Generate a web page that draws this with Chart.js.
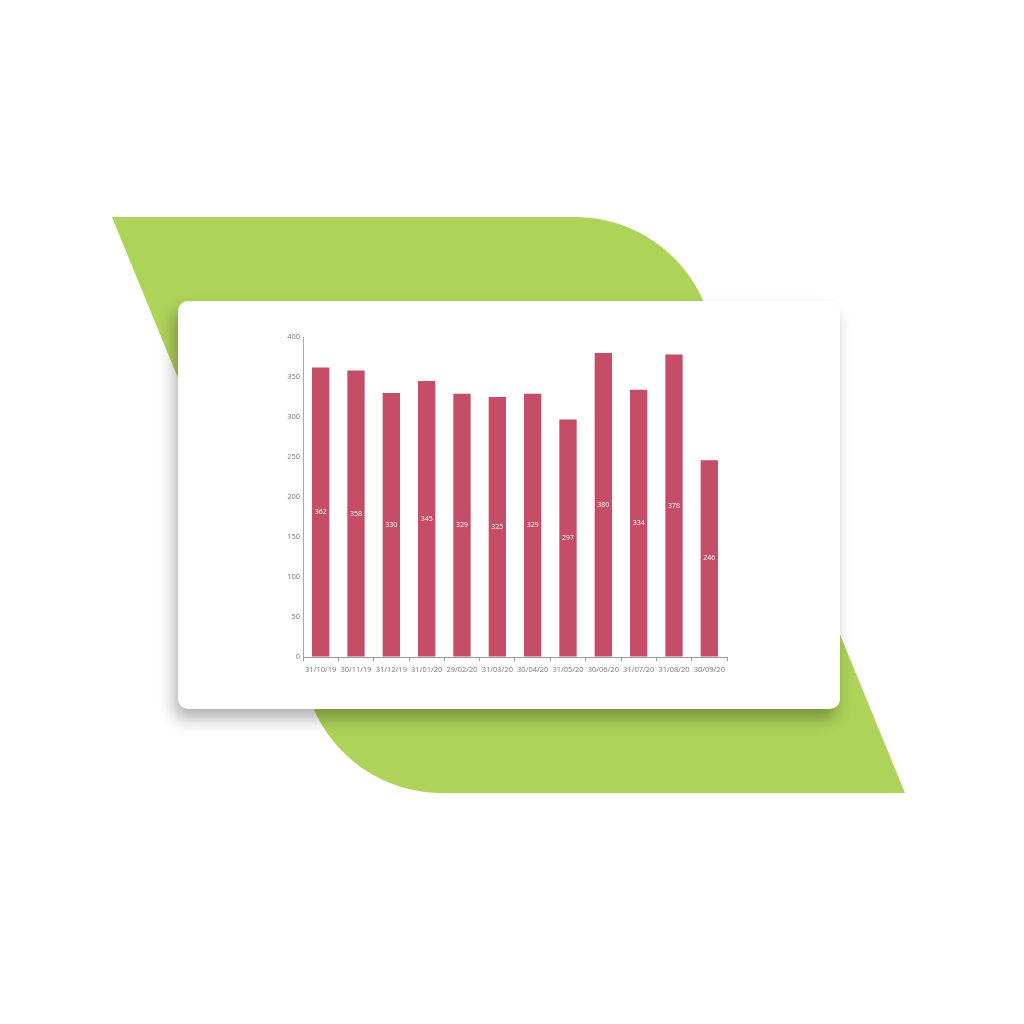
<!DOCTYPE html>
<html>
<head>
<meta charset="utf-8">
<script src="https://cdn.jsdelivr.net/npm/chart.js@4.4.0/dist/chart.umd.min.js"></script>
<style>
  html, body { margin: 0; padding: 0; background: #fff; }
  #stage { position: relative; width: 1024px; height: 1024px; overflow: hidden; }
  #blob { position: absolute; left: 0; top: 0; }
  #card {
    position: absolute; left: 178px; top: 301px; width: 662px; height: 408px;
    background: #fff; border-radius: 10px;
    box-shadow: -4px 10px 16px rgba(0, 0, 0, 0.3);
  }
  #wrap { position: absolute; left: 260px; top: 320px; width: 500px; height: 380px; }
</style>
</head>
<body>
<div id="stage">
  <svg id="blob" width="1024" height="1024">
    <path d="M112,217 L575,217 A140,140 0 0 1 704.6,304 L905,793 L440,793 A140,140 0 0 1 312.4,706 Z" fill="#aed359"/>
  </svg>
  <div id="card"></div>
  <div id="wrap"><canvas id="chart"></canvas></div>
</div>
<script>
const months = ['31/10/19', '30/11/19', '31/12/19', '31/01/20', '29/02/20', '31/03/20',
                '30/04/20', '31/05/20', '30/06/20', '31/07/20', '31/08/20', '30/09/20'];
const counts = [362, 358, 330, 345, 329, 325, 329, 297, 380, 334, 378, 246];
const yTicks = [0, 50, 100, 150, 200, 250, 300, 350, 400];

// value written in the middle of each bar
const midLabels = {
  id: 'midLabels',
  afterDatasetsDraw(chart) {
    const ctx = chart.ctx;
    const meta = chart.getDatasetMeta(0);
    ctx.save();
    ctx.fillStyle = '#fff';
    ctx.font = '7px "Open Sans"';
    ctx.textAlign = 'center';
    ctx.textBaseline = 'middle';
    meta.data.forEach((bar, i) => {
      ctx.fillText(counts[i], bar.x, (bar.y + bar.base) / 2);
    });
    ctx.restore();
  }
};

new Chart(document.getElementById('chart'), {
  type: 'bar',
  data: {
    labels: months,
    datasets: [{
      data: counts,
      backgroundColor: '#c54d68',
      barPercentage: 0.98,
      categoryPercentage: 0.5
    }]
  },
  options: {
    responsive: true,
    maintainAspectRatio: false,
    animation: false,
    layout: { padding: { left: 13, top: 17, right: 33, bottom: 23 } },
    plugins: { legend: { display: false }, tooltip: { enabled: false } },
    scales: {
      x: {
        grid: { drawOnChartArea: false, color: '#999', tickLength: 4, offset: true },
        border: { color: '#999' },
        ticks: { color: '#777', font: { family: 'Open Sans', size: 7.5 }, maxRotation: 0, padding: 4 },
        afterFit(s) { s.height = 20; }
      },
      y: {
        min: 0,
        max: 400,
        afterBuildTicks(s) { s.ticks = yTicks.map(v => ({ value: v })); },
        grid: { drawOnChartArea: false, color: 'transparent', tickLength: 1 },
        border: { color: '#aaa' },
        ticks: { color: '#777', font: { family: 'Open Sans', size: 7.5 }, padding: 2 },
        afterFit(s) { s.width = 30; }
      }
    }
  },
  plugins: [midLabels]
});
</script>
</body>
</html>
